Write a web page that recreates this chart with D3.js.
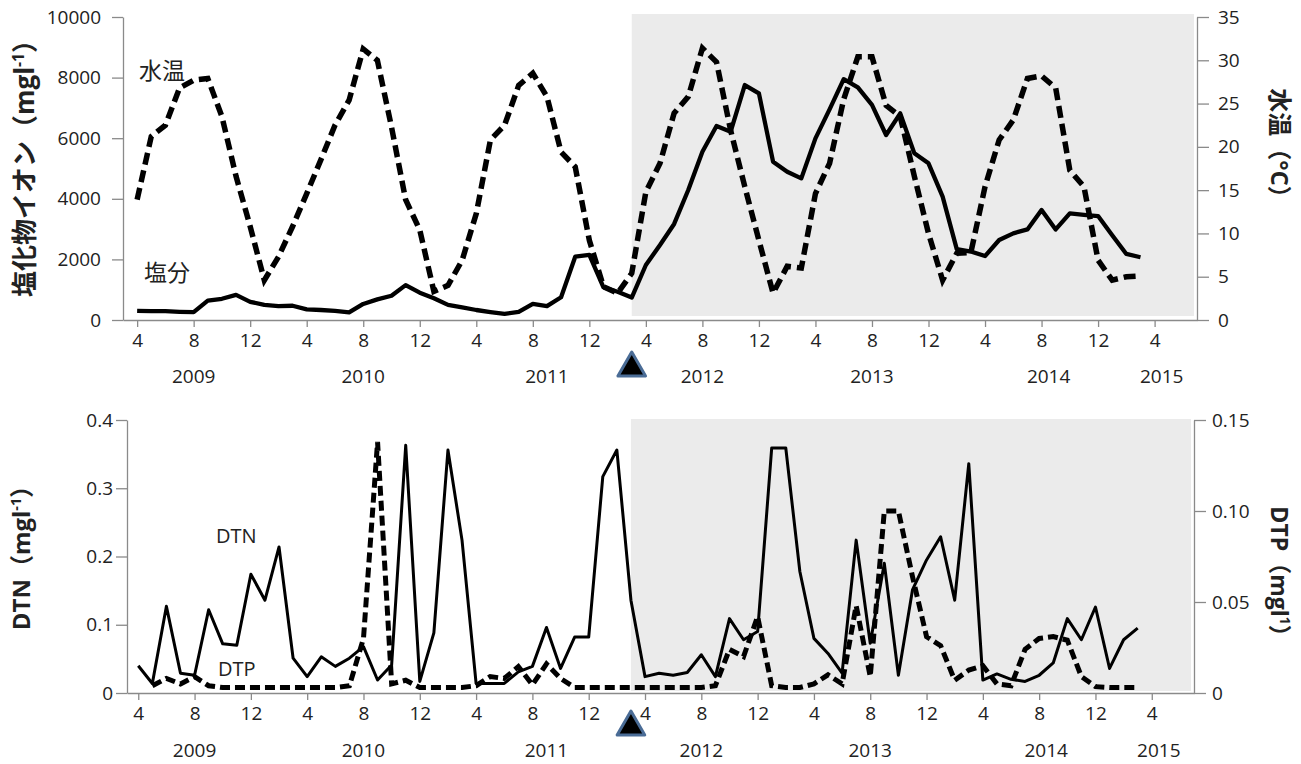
<!DOCTYPE html>
<html>
<head>
<meta charset="utf-8">
<script src="https://cdn.jsdelivr.net/npm/d3@7"></script>
<style>
body { margin: 0; background: #fff; }
svg text { font-family: "Open Sans", "Noto Sans CJK JP", sans-serif; fill: #222; }
</style>
</head>
<body>
<div id="chart"></div>
<script>
const width = 1301;
const height = 764;

// month index: 0 = April 2009
const xTickMonths = [0, 4, 8, 12, 16, 20, 24, 28, 32, 36, 40, 44, 48, 52, 56, 60, 64, 68, 72];
const xTickLabels = ['4', '8', '12', '4', '8', '12', '4', '8', '12', '4', '8', '12', '4', '8', '12', '4', '8', '12', '4'];
const years = ['2009', '2010', '2011', '2012', '2013', '2014', '2015'];
const yearMonths = [4, 16, 29, 40, 52, 64.5, 72.5];
const shadeStart = 35;   // March 2012

// top panel: chloride ion (mg/l) and water temperature (C)
const chloride = [300, 290, 290, 270, 260, 640, 700, 830, 600, 500, 460, 470, 350, 330, 300, 250,
  530, 680, 800, 1150, 900, 720, 500, 420, 330, 260, 200, 270, 530, 460, 750, 2090, 2150, 1080, 930, 740,
  1815, 2475, 3170, 4290, 5555, 6400, 6215, 7755, 7480, 5225, 4895, 4675, 5995, 6950, 7950, 7680, 7100, 6105,
  6820, 5500, 5170, 4070, 2340, 2260, 2110, 2640, 2860, 2990, 3630, 2990, 3520, 3470, 3430, 2800, 2180, 2070];
const waterTemp = [13.9, 21.2, 22.5, 26.8, 27.7, 27.9, 23.5, 16.6, 10.8, 4.6, 7.3, 10.8, 14.6, 18.5, 22.5, 25.4,
  31.3, 30.0, 22.3, 13.9, 10.4, 3.3, 4.0, 6.9, 12.3, 20.8, 22.5, 27.1, 28.5, 25.8, 19.4, 17.7, 9.2, 3.85, 3.1, 5.4,
  14.8, 18.1, 23.9, 25.8, 31.4, 29.8, 21.9, 15.4, 9.2, 3.1, 6.2, 6.0, 14.6, 18.1, 25.5, 30.4, 30.4, 24.8,
  23.5, 16.6, 10.0, 4.6, 7.7, 7.8, 15.4, 20.8, 23.1, 27.9, 28.2, 26.8, 17.3, 15.4, 6.9, 4.6, 5.0, 5.1];
const clTicks = [0, 2000, 4000, 6000, 8000, 10000];
const tempTicks = [0, 5, 10, 15, 20, 25, 30, 35];

// bottom panel: DTN and DTP (mg/l)
const dtn = [0.040, 0.014, 0.127, 0.029, 0.026, 0.122, 0.072, 0.070, 0.174, 0.136, 0.214, 0.051, 0.024, 0.053,
  0.039, 0.051, 0.068, 0.019, 0.041, 0.363, 0.017, 0.088, 0.356, 0.224, 0.014, 0.014, 0.014, 0.031, 0.039, 0.096,
  0.036, 0.082, 0.082, 0.317, 0.356, 0.136, 0.024, 0.029, 0.026, 0.030, 0.056, 0.024, 0.109, 0.078, 0.090, 0.359,
  0.359, 0.178, 0.080, 0.058, 0.029, 0.224, 0.073, 0.190, 0.026, 0.151, 0.195, 0.229, 0.136, 0.336, 0.019, 0.028,
  0.020, 0.017, 0.026, 0.044, 0.109, 0.078, 0.126, 0.036, 0.078, 0.095];
const dtp = [null, 0.004, 0.008, 0.005, 0.009, 0.004, 0.003, 0.003, 0.003, 0.003, 0.003, 0.003, 0.003, 0.003,
  0.003, 0.004, 0.030, 0.138, 0.005, 0.007, 0.003, 0.003, 0.003, 0.003, 0.004, 0.009, 0.008, 0.0145, 0.0045, 0.016,
  0.008, 0.003, 0.003, 0.003, 0.003, 0.003, 0.003, 0.003, 0.003, 0.003, 0.003, 0.004, 0.024, 0.020, 0.042, 0.004,
  0.003, 0.003, 0.005, 0.010, 0.005, 0.048, 0.009, 0.100, 0.100, 0.064, 0.031, 0.026, 0.007, 0.0126, 0.015, 0.005,
  0.004, 0.024, 0.030, 0.031, 0.029, 0.009, 0.0035, 0.003, 0.003, 0.003];
const dtnTicks = [0, 0.1, 0.2, 0.3, 0.4];
const dtpTicks = [0, 0.05, 0.10, 0.15];

const svg = d3.select('#chart').append('svg').attr('width', width).attr('height', height);

const axisColor = '#8a8a8a';
const shadeColor = '#ebebeb';

function styleAxis(g) {
  g.select('.domain').attr('stroke', axisColor).attr('stroke-width', 1.3);
  g.selectAll('.tick line').attr('stroke', axisColor).attr('stroke-width', 1.3);
  g.selectAll('.tick text').attr('font-size', 19).attr('fill', '#222');
}

function panel(opt) {
  const x = d3.scaleLinear().domain(opt.xDomain).range(opt.xRange);
  const yL = d3.scaleLinear().domain(opt.yLDomain).range([opt.y0, opt.y1]);
  const yR = d3.scaleLinear().domain(opt.yRDomain).range([opt.y0, opt.y1]);
  const g = svg.append('g');

  // shaded period after the event
  g.append('rect')
    .attr('x', x(shadeStart))
    .attr('y', opt.y1 - opt.shadeTopPad)
    .attr('width', opt.xRange[1] - 3 - x(shadeStart))
    .attr('height', opt.y0 - opt.y1 + opt.shadeTopPad - opt.shadeBotPad)
    .attr('fill', shadeColor);

  // axes
  g.append('g').attr('transform', 'translate(0,' + opt.y0 + ')')
    .call(d3.axisBottom(x).tickValues(xTickMonths).tickSize(7).tickSizeOuter(0).tickPadding(7)
      .tickFormat((d, i) => xTickLabels[i]))
    .call(styleAxis);
  g.append('g').attr('transform', 'translate(' + opt.xRange[0] + ',0)')
    .call(d3.axisLeft(yL).tickValues(opt.yLTicks).tickSize(11).tickSizeOuter(0).tickPadding(opt.leftPad)
      .tickFormat(opt.yLFormat))
    .call(styleAxis);
  g.append('g').attr('transform', 'translate(' + opt.xRange[1] + ',0)')
    .call(d3.axisRight(yR).tickValues(opt.yRTicks).tickSize(12).tickSizeOuter(0).tickPadding(opt.rightPad)
      .tickFormat(opt.yRFormat))
    .call(styleAxis);

  // year labels
  g.selectAll('.year').data(years).enter().append('text')
    .attr('class', 'year')
    .attr('x', (d, i) => x(yearMonths[i]))
    .attr('y', opt.yearY)
    .attr('text-anchor', 'middle')
    .attr('font-size', 19)
    .text(d => d);

  // event marker
  g.append('path')
    .attr('d', d3.symbol().type(d3.symbolTriangle).size(330)())
    .attr('transform', 'translate(' + x(shadeStart) + ',' + opt.triY + ')')
    .attr('fill', '#000')
    .attr('stroke', '#4a6c96')
    .attr('stroke-width', 3)
    .attr('stroke-linejoin', 'round');

  // lines
  const lineL = d3.line().defined(d => d != null).x((d, i) => x(i)).y(d => yL(d));
  const lineR = d3.line().defined(d => d != null).x((d, i) => x(i)).y(d => yR(d));
  g.append('path').datum(opt.rightData)
    .attr('d', lineR).attr('fill', 'none').attr('stroke', '#000')
    .attr('stroke-width', opt.dashWidth).attr('stroke-dasharray', opt.dash);
  g.append('path').datum(opt.leftData)
    .attr('d', lineL).attr('fill', 'none').attr('stroke', '#000')
    .attr('stroke-width', opt.solidWidth).attr('stroke-linejoin', 'round');

  return g;
}

const topPanel = panel({
  xDomain: [-1, 75], xRange: [123, 1197],
  y0: 320, y1: 17,
  yLDomain: [0, 10000], yRDomain: [0, 35],
  yLTicks: clTicks, yRTicks: tempTicks,
  yLFormat: d3.format('d'), yRFormat: d3.format('d'),
  leftPad: 11, rightPad: 9,
  leftData: chloride, rightData: waterTemp,
  solidWidth: 4.3, dashWidth: 5.5, dash: '12,6',
  shadeTopPad: 3, shadeBotPad: 4,
  yearY: 383, triY: 368
});

const bottomPanel = panel({
  xDomain: [-0.8, 75], xRange: [127, 1194],
  y0: 693, y1: 420,
  yLDomain: [0, 0.4], yRDomain: [0, 0.15],
  yLTicks: dtnTicks, yRTicks: dtpTicks,
  yLFormat: d => d === 0 ? '0' : d3.format('.1f')(d),
  yRFormat: d => d === 0 ? '0' : d3.format('.2f')(d),
  leftPad: 3, rightPad: 6,
  leftData: dtn, rightData: dtp,
  solidWidth: 3, dashWidth: 5, dash: '10,5',
  shadeTopPad: 1, shadeBotPad: 2,
  yearY: 757, triY: 727
});

// series labels
topPanel.append('text').attr('x', 139).attr('y', 79).attr('font-size', 23).text('水温');
topPanel.append('text').attr('x', 144).attr('y', 281).attr('font-size', 23).text('塩分');
bottomPanel.append('text').attr('x', 216).attr('y', 543).attr('font-size', 20).text('DTN');
bottomPanel.append('text').attr('x', 218).attr('y', 676).attr('font-size', 20).text('DTP');

// axis titles
function title(g, x, y, rot, size, main, sup) {
  const t = g.append('text')
    .attr('transform', 'translate(' + x + ',' + y + ') rotate(' + rot + ')')
    .attr('text-anchor', 'middle')
    .attr('dy', '0.35em')
    .attr('font-size', size)
    .attr('font-weight', 'bold');
  t.append('tspan').text(main);
  if (sup) {
    t.append('tspan').attr('font-size', size * 0.6).attr('dy', -size * 0.4).text(sup);
    t.append('tspan').attr('dy', size * 0.4).text('）');
  }
}
title(topPanel, 25, 162, -90, 26, '塩化物イオン（mgl', '-1');
title(topPanel, 1279, 149, 90, 24, '水温（°C）', null);
title(bottomPanel, 22, 552, -90, 24, 'DTN（mgl', '-1');
title(bottomPanel, 1279, 577, 90, 23, 'DTP（mgl', '1');
</script>
</body>
</html>
